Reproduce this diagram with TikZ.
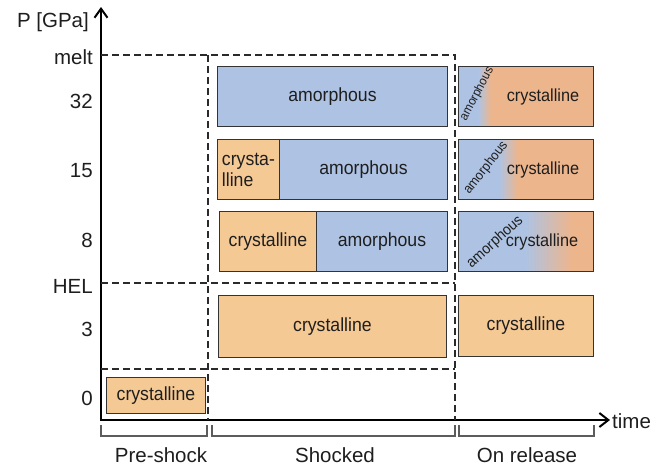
\documentclass[tikz,border=0pt]{standalone}
\usepackage{fontspec}
\setmainfont{Liberation Sans}
\newfontfamily\boxfam[FakeStretch=0.93]{Liberation Sans}
\usetikzlibrary{arrows.meta}
\definecolor{cryst}{HTML}{F5C994}
\definecolor{rel}{HTML}{EDB58C}
\definecolor{amor}{HTML}{AEC3E4}
\definecolor{bord}{HTML}{333333}
\definecolor{txt}{HTML}{1E1E1E}
\definecolor{dashc}{HTML}{2A2A2A}
\begin{document}
\begin{tikzpicture}[x=1pt,y=-1pt,
  axis/.style={line width=2pt,draw=black},
  dashln/.style={draw=dashc,line width=1.2pt,dash pattern=on 7pt off 4pt},
  brk/.style={draw=bord!80,line width=1.2pt},
  lab/.style={text=txt,font=\fontsize{20.5}{22}\selectfont,inner sep=0pt},
  box/.style={draw=bord,line width=0.9pt,inner sep=0pt,anchor=north west,text=txt},
  cbox/.style={box,fill=cryst},
  abox/.style={box,fill=amor},
  rbox/.style={box},
  bt/.style={text=txt,inner sep=0pt,font=\boxfam\fontsize{19}{22}\selectfont},
  rt/.style={text=txt,inner sep=0pt,font=\boxfam\fontsize{17.5}{20}\selectfont},
  amt/.style={text=txt,inner sep=0pt,font=\boxfam\fontsize{#1}{#1}\selectfont},
]
\useasboundingbox (0,0) rectangle (662,467);

% axes
\coordinate (ytop) at (101,7);
\coordinate (orig) at (101,420);
\coordinate (xend) at (610,420);
\draw[axis,{Straight Barb[length=9pt,width=13pt]}-{Straight Barb[length=9pt,width=14pt]}] (ytop) -- (orig) -- (xend);
\node[lab,anchor=west] (time) at (612,421) {time};

% axis labels
\node[lab,anchor=east] (lP) at (89,22) {P [GPa]};
\node[lab,anchor=east] (lmelt) at (93,57) {melt};
\node[lab,anchor=east] (l32) at (93,101) {32};
\node[lab,anchor=east] (l15) at (93,171) {15};
\node[lab,anchor=east] (l8) at (93,240) {8};
\node[lab,anchor=east] (lHEL) at (93,286) {HEL};
\node[lab,anchor=east] (l3) at (93,329) {3};
\node[lab,anchor=east] (l0) at (93,398) {0};

% dashed guide lines
\coordinate (m0) at (101,55); \coordinate (m1) at (455,55);
\coordinate (h0) at (101,283); \coordinate (h1) at (455,283);
\coordinate (b0) at (101,369); \coordinate (b1) at (455,369);
\coordinate (v1t) at (208,55); \coordinate (v1b) at (208,420);
\coordinate (v2b) at (455,420);
\draw[dashln] (m0) -- (m1) -- (v2b);
\draw[dashln] (v1t) -- (v1b);
\draw[dashln] (h0) -- (h1);
\draw[dashln] (b0) -- (b1);

% pre-shock
\node[cbox,minimum width=99pt,minimum height=36pt] (pre) at (106,377) {};
\node[bt] at (pre.center) {crystalline};

% shocked column
\node[abox,minimum width=230pt,minimum height=60pt] (s32) at (217,66) {};
\node[bt] at (s32.center) {amorphous};

\node[cbox,minimum width=62pt,minimum height=60pt] (s15c) at (217,139) {};
\node[abox,minimum width=168pt,minimum height=60pt] (s15a) at (279,139) {};
\node[bt,align=left] at (s15c.center) {crysta-\\[-1pt]lline};
\node[bt] at (s15a.center) {amorphous};

\node[cbox,minimum width=97pt,minimum height=60pt] (s8c) at (219,211) {};
\node[abox,minimum width=131pt,minimum height=60pt] (s8a) at (316,211) {};
\node[bt] at (s8c.center) {crystalline};
\node[bt] at (s8a.center) {amorphous};

\node[cbox,minimum width=228pt,minimum height=62pt] (s3) at (218,295) {};
\node[bt] at (s3.center) {crystalline};

% release column
\fill[amor] (458,66) rectangle (478,126);
\shade[left color=amor,right color=rel] (478,66) rectangle (491,126);
\fill[rel] (491,66) rectangle (593,126);
\node[rbox,minimum width=135pt,minimum height=60pt] (r32) at (458,66) {};
\node[rt] at (543,97) {crystalline};
\node[amt=12.5,rotate=62] at (477,94) {amorphous};

\fill[amor] (458,139) rectangle (499,199);
\shade[left color=amor,right color=rel] (499,139) rectangle (518,199);
\fill[rel] (518,139) rectangle (593,199);
\node[rbox,minimum width=135pt,minimum height=60pt] (r15) at (458,139) {};
\node[rt] at (543,170) {crystalline};
\node[amt=13.5,rotate=52] at (486,168) {amorphous};

\fill[amor] (458,211) rectangle (525,271);
\shade[left color=amor,right color=rel] (525,211) rectangle (572,271);
\fill[rel] (572,211) rectangle (593,271);
\node[rbox,minimum width=135pt,minimum height=60pt] (r8) at (458,211) {};
\node[rt] at (542,242) {crystalline};
\node[amt=15,rotate=42] at (495,242) {amorphous};

\node[cbox,minimum width=135pt,minimum height=61pt] (r3) at (458,295) {};
\node[bt] at (r3.center) {crystalline};

% brackets
\coordinate (pb0) at (101,425); \coordinate (pb1) at (207,425);
\coordinate (sb0) at (212,425); \coordinate (sb1) at (455,425);
\coordinate (rb0) at (459,425); \coordinate (rb1) at (594,425);
\draw[brk] (pb0) -- ++(0,11) -| (pb1);
\draw[brk] (sb0) -- ++(0,11) -| (sb1);
\draw[brk] (rb0) -- ++(0,11) -| (rb1);
\node[lab] (tpre) at (161,455) {Pre-shock};
\node[lab] (tsh) at (335,455) {Shocked};
\node[lab] (trel) at (527,455) {On release};
\end{tikzpicture}
\end{document}
